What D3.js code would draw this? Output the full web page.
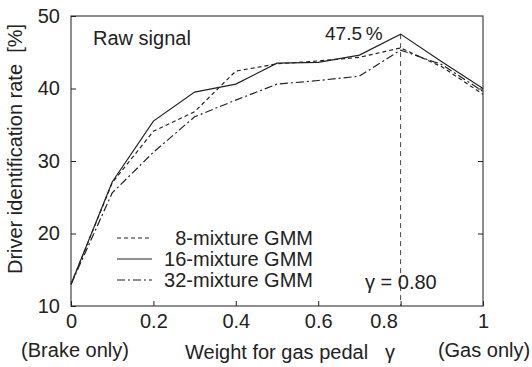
<!DOCTYPE html>
<html><head><meta charset="utf-8">
<script src="https://cdn.jsdelivr.net/npm/d3@7"></script>
<style>body{margin:0;background:#fff}svg{display:block;font-family:"Liberation Sans",Arial,sans-serif}</style>
</head><body><svg id="c" width="532" height="367"></svg>
<script>
const weights = [0, 0.1, 0.2, 0.3, 0.4, 0.5, 0.6, 0.7, 0.8, 0.9, 1.0];
const gmm8  = [13.0, 27.0, 34.1, 36.8, 42.4, 43.4, 43.8, 44.3, 45.6, 43.0, 39.2];
const gmm16 = [13.0, 27.1, 35.5, 39.5, 40.6, 43.5, 43.6, 44.6, 47.5, 43.7, 40.0];
const gmm32 = [13.0, 25.6, 31.2, 36.1, 38.4, 40.6, 41.1, 41.7, 45.3, 43.3, 39.6];
const seriesNames = ["8-mixture GMM", "16-mixture GMM", "32-mixture GMM"];
const xTicks = [0, 0.2, 0.4, 0.6, 0.8, 1];
const xTickLabels = ["0", "0.2", "0.4", "0.6", "0.8", "1"];
const yTicks = [10, 20, 30, 40, 50];

const svg = d3.select("#c");
const L = 71, R = 483, T = 16, B = 306;
const x = d3.scaleLinear().domain([0, 1]).range([L, R]);
const y = d3.scaleLinear().domain([10, 50]).range([B, T]);
const ink = "#222";
const FS = 20;
const styles = ["4,3", null, "8,3,2,3"];
const data = [gmm8, gmm16, gmm32];

// frame
svg.append("rect").attr("x", L).attr("y", T).attr("width", R - L).attr("height", B - T)
  .attr("fill", "none").attr("stroke", "#444").attr("stroke-width", 1.2);

// axes with inward ticks
const xAx = svg.append("g").attr("transform", `translate(0,${B})`)
  .call(d3.axisBottom(x).tickValues(xTicks).tickSizeInner(-5).tickSizeOuter(0).tickFormat((d, i) => xTickLabels[i]));
xAx.select(".domain").remove();
xAx.selectAll("line").attr("stroke", ink);
xAx.selectAll("text").attr("font-size", FS).attr("fill", ink).attr("y", 8)
  .attr("dx", d => d === 0.8 ? -17 : 0);

const yAx = svg.append("g").attr("transform", `translate(${L},0)`)
  .call(d3.axisLeft(y).tickValues(yTicks).tickSizeInner(-5).tickSizeOuter(0));
yAx.select(".domain").remove();
yAx.selectAll("line").attr("stroke", ink);
yAx.selectAll("text").attr("font-size", FS).attr("fill", ink).attr("x", -11);

const yAxR = svg.append("g").attr("transform", `translate(${R},0)`)
  .call(d3.axisRight(y).tickValues(yTicks.slice(1, 4)).tickSizeInner(-5).tickSizeOuter(0).tickFormat(""));
yAxR.select(".domain").remove();
yAxR.selectAll("line").attr("stroke", ink);

// vertical dashed line at peak
const peakI = gmm16.indexOf(d3.max(gmm16));
svg.append("line").attr("x1", x(weights[peakI])).attr("x2", x(weights[peakI]))
  .attr("y1", y(gmm16[peakI])).attr("y2", B)
  .attr("stroke", "#444").attr("stroke-width", 1).attr("stroke-dasharray", "5,4");

// lines
const line = d3.line().x((d, i) => x(weights[i])).y(d => y(d));
data.forEach((s, k) => {
  svg.append("path").datum(s).attr("d", line).attr("fill", "none")
    .attr("stroke", ink).attr("stroke-width", 1.2)
    .attr("stroke-dasharray", styles[k]);
});

// legend
const legY = [238, 259, 280];
seriesNames.forEach((n, k) => {
  svg.append("line").attr("x1", 117).attr("x2", 152).attr("y1", legY[k]).attr("y2", legY[k])
    .attr("stroke", ink).attr("stroke-width", 1.2).attr("stroke-dasharray", styles[k]);
  svg.append("text").attr("x", 313).attr("y", legY[k] + 7).attr("text-anchor", "end")
    .attr("font-size", FS).attr("fill", ink).text(n);
});

// annotations
svg.append("text").attr("x", 93).attr("y", 45).attr("font-size", FS).attr("fill", ink).text("Raw signal");
svg.append("text").attr("x", 325).attr("y", 40).attr("font-size", 19).attr("fill", ink).text("47.5\u2009%");
svg.append("text").attr("x", 365).attr("y", 289).attr("font-size", FS).attr("fill", ink).text("\u03b3 = 0.80");

// axis titles
svg.append("text").attr("x", 75).attr("y", 357).attr("text-anchor", "middle").attr("font-size", FS).attr("fill", ink).text("(Brake only)");
svg.append("text").attr("x", 484).attr("y", 357).attr("text-anchor", "middle").attr("font-size", FS).attr("fill", ink).text("(Gas only)");
svg.append("text").attr("x", 185).attr("y", 359).attr("font-size", FS).attr("fill", ink).text("Weight for gas pedal");
svg.append("text").attr("x", 390).attr("y", 359).attr("text-anchor", "middle").attr("font-size", FS).attr("fill", ink).text("\u03b3");
svg.append("text").attr("transform", "translate(22,149) rotate(-90)").attr("text-anchor", "middle")
  .attr("font-size", FS).attr("fill", ink).attr("xml:space", "preserve").text("Driver identification rate  [%]");
</script></body></html>
